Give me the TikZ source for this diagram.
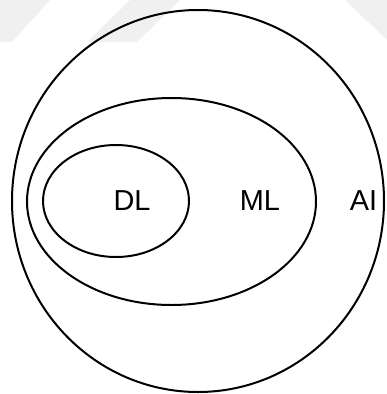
\documentclass[tikz,border=0pt]{standalone}
\usepackage{fontspec}
\setmainfont{Liberation Sans}
\usetikzlibrary{shapes.geometric}
\begin{document}
\begin{tikzpicture}[x=1bp,y=-1bp,
  set/.style={draw=black,line width=2bp,ellipse,inner sep=0pt,outer sep=0pt},
  lbl/.style={inner sep=0pt,font=\fontsize{29}{29}\selectfont},
  wm/.style={fill=black!6,draw=none}]
\useasboundingbox (0,0) rectangle (387,394);
% faint watermark
\fill[wm] (0,0) -- (50,0) -- (12,42) -- (0,42) -- cycle;
\fill[wm] (130,0) -- (180,0) -- (137,42) -- (87,42) -- cycle;
\fill[wm] (345,0) -- (387,0) -- (387,40) -- cycle;
% sets
\node[set,minimum width=372bp,minimum height=382bp] (ai) at (198,201) {};
\node[set,minimum width=289bp,minimum height=207bp] (ml) at (171.5,201.5) {};
\node[set,minimum width=146bp,minimum height=112bp] (dl) at (116,201) {};
% labels
\node[lbl] (dlt) at (132,201) {DL};
\node[lbl] (mlt) at (260,201) {ML};
\node[lbl] (ait) at (363.5,201) {AI};
\end{tikzpicture}
\end{document}
